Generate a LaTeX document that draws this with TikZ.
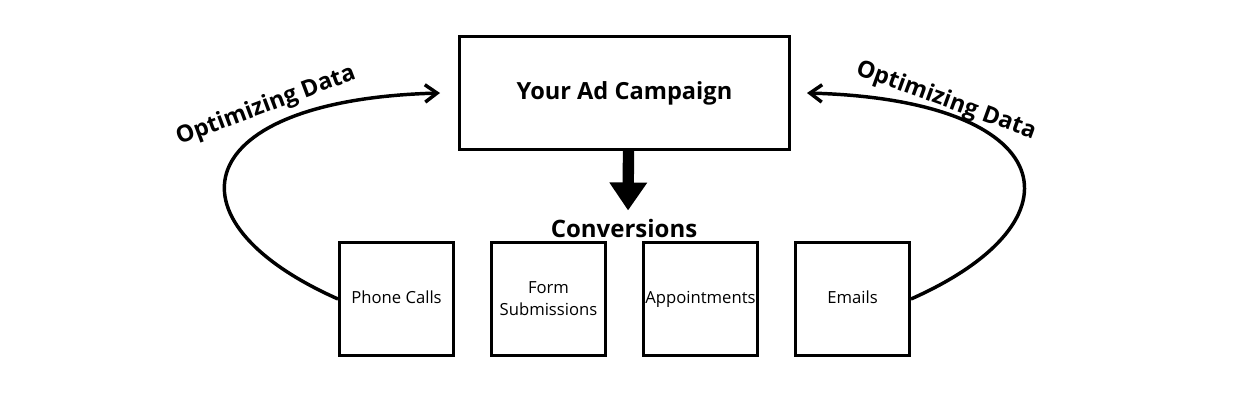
\documentclass[tikz,border=0pt]{standalone}
\usepackage{fontspec}
\setmainfont{Open Sans}
\usepackage{tikz}
\usetikzlibrary{arrows.meta,positioning}

\begin{document}
\begin{tikzpicture}[x=0.75pt, y=-0.75pt,
		bigbox/.style={draw, line width=2.25pt, minimum width=247.5pt, minimum height=84.75pt, inner sep=0pt, font=\fontsize{17.7}{20}\selectfont\bfseries},
		convbox/.style={draw, line width=2.25pt, minimum width=85.5pt, minimum height=84.75pt, inner sep=0pt, align=center, font=\fontsize{12.5}{16.5}\selectfont},
		lbl/.style={inner sep=0pt, font=\fontsize{17.5}{20}\selectfont\bfseries},
		feedback/.style={line width=2.6pt, -{Straight Barb[length=9pt, width=13pt]}},
		bigarrow/.style={line width=8.5pt, -{Triangle[length=21pt, width=27pt]}}]
		\useasboundingbox (0,0) rectangle (1240,400);
		% kampagne oben
		\node[bigbox] (campaign) at (624.5,93) {Your Ad Campaign};
		\node[lbl, font=\fontsize{18}{20}\selectfont\bfseries, anchor=base] (conv) at (624,237) {Conversions};
		\draw[bigarrow, shorten >=6pt] ([xshift=3pt]campaign.south) -- ([xshift=3pt]conv.north);
		% conversions
		\node[convbox] (phone) at (396.5,299) {\strut Phone Calls};
		\node[convbox, right=26.25pt of phone] (form) {Form\\Submissions};
		\node[convbox, right=26.25pt of form] (appt) {\strut Appointments};
		\node[convbox, right=26.25pt of appt] (mail) {\strut Emails};
		% rueckkopplung
		\coordinate (tipL) at (440,93);
		\coordinate (tipR) at (807,93);
		\draw[feedback] (phone.west) .. controls (160,220) and (190,100) .. (tipL);
		\draw[feedback] (mail.east) .. controls (1089,220) and (1059,100) .. (tipR);
		\node[lbl, rotate=20.5] (optL) at (266,106) {Optimizing Data};
		\node[lbl, rotate=-20] (optR) at (946,101) {Optimizing Data};
	\end{tikzpicture}
\end{document}
